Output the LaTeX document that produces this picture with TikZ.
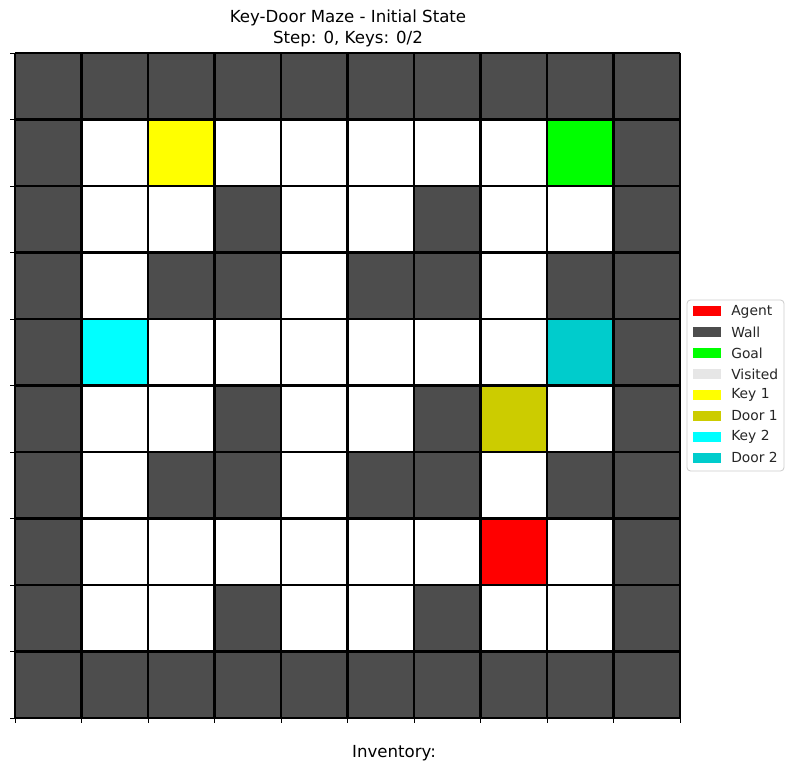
\documentclass[tikz,border=0pt]{standalone}
\usepackage{fontspec}
\setmainfont{DejaVu Sans}
\definecolor{wallc}{HTML}{4D4D4D}
\definecolor{keyone}{HTML}{FFFF00}
\definecolor{doorone}{HTML}{CCCC00}
\definecolor{keytwo}{HTML}{00FFFF}
\definecolor{doortwo}{HTML}{00CCCC}
\definecolor{goalc}{HTML}{00FF00}
\definecolor{agentc}{HTML}{FF0000}
\definecolor{visitc}{HTML}{E6E6E6}
\definecolor{legbord}{HTML}{CCCCCC}
\begin{document}
\begin{tikzpicture}[x=0.01in,y=-0.01in,
  gridline/.style={line width=1.5pt,black},
  tickmark/.style={line width=0.6pt,black},
  legpatch/.style={minimum width=28\pgflinewidth, inner sep=0pt},
  legtext/.style={anchor=west,font=\fontsize{10}{12}\selectfont,inner sep=0pt,text=black!85},
  titletext/.style={font=\fontsize{12}{14}\selectfont,inner sep=0pt}]
\useasboundingbox (0,0) rectangle (794,772);
\def\cs{66.5}
\def\ox{15}
\def\oy{53}
% background white
\fill[white] (\ox,\oy) rectangle ({\ox+10*\cs},{\oy+10*\cs});
% walls: border
\foreach \c in {0,...,9}{
  \fill[wallc] ({\ox+\c*\cs},\oy) rectangle ({\ox+(\c+1)*\cs},{\oy+\cs});
  \fill[wallc] ({\ox+\c*\cs},{\oy+9*\cs}) rectangle ({\ox+(\c+1)*\cs},{\oy+10*\cs});
  \fill[wallc] (\ox,{\oy+\c*\cs}) rectangle ({\ox+\cs},{\oy+(\c+1)*\cs});
  \fill[wallc] ({\ox+9*\cs},{\oy+\c*\cs}) rectangle ({\ox+10*\cs},{\oy+(\c+1)*\cs});
}
% inner walls (col/row)
\foreach \c/\r in {3/2,6/2,2/3,3/3,5/3,6/3,8/3,3/5,6/5,2/6,3/6,5/6,6/6,8/6,3/8,6/8}{
  \fill[wallc] ({\ox+\c*\cs},{\oy+\r*\cs}) rectangle ({\ox+(\c+1)*\cs},{\oy+(\r+1)*\cs});
}
% special cells
\foreach \c/\r/\col in {2/1/keyone,8/1/goalc,1/4/keytwo,8/4/doortwo,7/5/doorone,7/7/agentc}{
  \fill[\col] ({\ox+\c*\cs},{\oy+\r*\cs}) rectangle ({\ox+(\c+1)*\cs},{\oy+(\r+1)*\cs});
}
% grid lines
\foreach \i in {0,...,10}{
  \draw[gridline] ({\ox+\i*\cs},\oy) -- ({\ox+\i*\cs},{\oy+10*\cs});
  \draw[gridline] (\ox,{\oy+\i*\cs}) -- ({\ox+10*\cs},{\oy+\i*\cs});
  \draw[tickmark] ({\ox-5},{\oy+\i*\cs}) -- (\ox,{\oy+\i*\cs});
  \draw[tickmark] ({\ox+\i*\cs},{\oy+10*\cs}) -- ({\ox+\i*\cs},{\oy+10*\cs+5});
}
% titles
\node[titletext] (title1) at (348,18) {Key-Door Maze - Initial State};
\node[titletext] (title2) at (348,39) {Step: 0, Keys: 0/2};
\node[titletext] (inventory) at (394,753) {Inventory:};
% legend
\draw[legbord, line width=0.6pt, rounded corners=2.5, fill=white] (687,300) rectangle (784,471);
\foreach \i/\col/\txt in {0/agentc/Agent,1/wallc/Wall,2/goalc/Goal,3/visitc/Visited,4/keyone/Key 1,5/doorone/Door 1,6/keytwo/Key 2,7/doortwo/Door 2}{
  \fill[\col] (693,{311.5+\i*20.9-5}) rectangle (721,{311.5+\i*20.9+5});
  \node[legtext] (leg\i) at (731,{311.5+\i*20.9}) {\txt};
}
\end{tikzpicture}
\end{document}
